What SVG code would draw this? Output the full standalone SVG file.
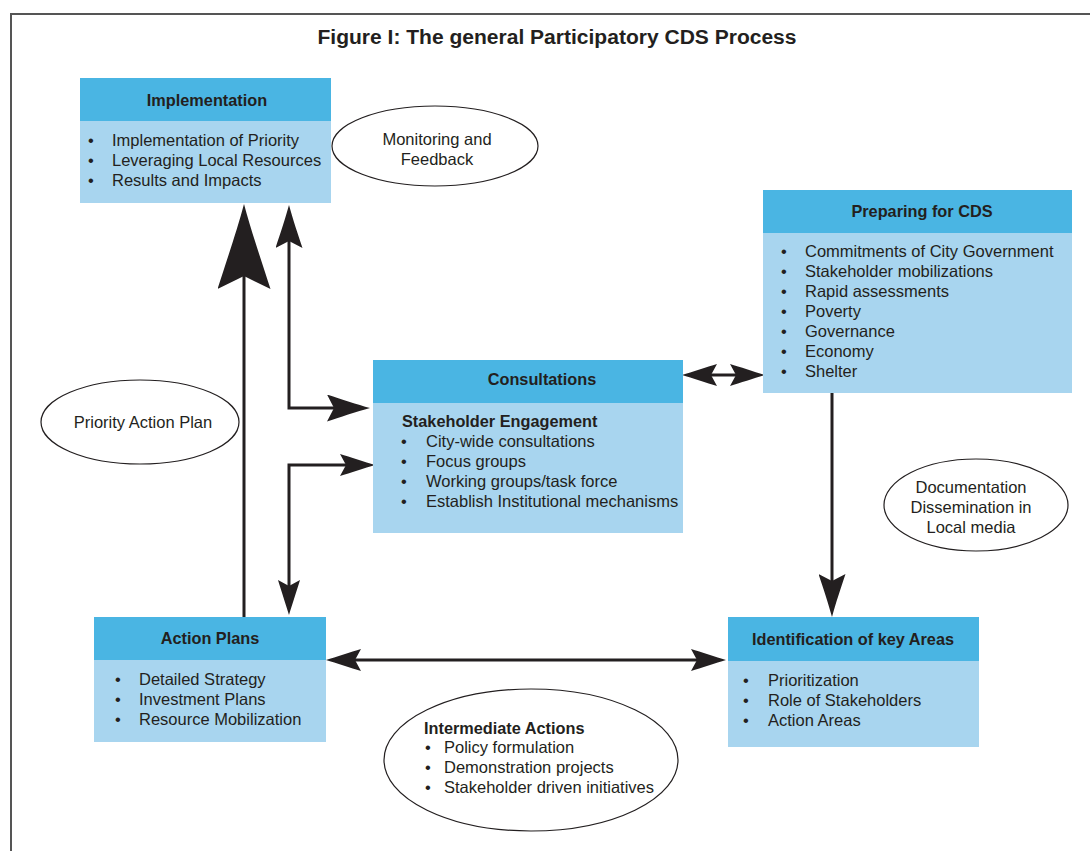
<svg xmlns="http://www.w3.org/2000/svg" width="1090" height="851" viewBox="0 0 1090 851">
<style>
.hdr{fill:#4AB5E3}
.bdy{fill:#A8D5EF}
.t{font-family:"Liberation Sans",Arial,sans-serif;font-size:16.5px;fill:#231F20}
.b{font-family:"Liberation Sans",Arial,sans-serif;font-size:16.3px;font-weight:bold;fill:#231F20}
.c{text-anchor:middle}
.ell{fill:#fff;stroke:#231F20;stroke-width:1.2}
.ln{fill:none;stroke:#231F20;stroke-width:3}
.title{font-family:"Liberation Sans",Arial,sans-serif;font-size:20px;font-weight:bold;fill:#231F20;text-anchor:middle}
</style>
<defs>
<marker id="big" viewBox="0 0 85 53" refX="13" refY="26.5" markerWidth="85" markerHeight="53" markerUnits="userSpaceOnUse" orient="auto-start-reverse">
<path d="M85,26.5 C60,20 25,8 0,0 L13,26.5 L0,53 C25,45 60,33 85,26.5 Z" fill="#231F20"/>
</marker>
<marker id="med" viewBox="0 0 43 27" refX="7" refY="13.5" markerWidth="43" markerHeight="27" markerUnits="userSpaceOnUse" orient="auto-start-reverse">
<path d="M43,13.5 C30,10 12,4 0,0 L7,13.5 L0,27 C12,23 30,17 43,13.5 Z" fill="#231F20"/>
</marker>
<marker id="sm" viewBox="0 0 35 22" refX="6" refY="11" markerWidth="35" markerHeight="22" markerUnits="userSpaceOnUse" orient="auto-start-reverse">
<path d="M35,11 C25,8 10,3 0,0 L6,11 L0,22 C10,19 25,14 35,11 Z" fill="#231F20"/>
</marker>
</defs>
<rect width="1090" height="851" fill="#fff"/>
<path d="M11,851 L11,14 L1090,14" fill="none" stroke="#555" stroke-width="2"/>
<text class="title" x="557" y="44" textLength="479" lengthAdjust="spacingAndGlyphs">Figure I: The general Participatory CDS Process</text>

<g id="connectors">
<path class="ln" d="M244,617 L244,276" stroke-width="7" marker-end="url(#big)"/>
<path class="ln" d="M289,241 L289,408 L334,408" marker-start="url(#med)" marker-end="url(#med)"/>
<path class="ln" d="M346,465 L289,465 L289,586" marker-start="url(#sm)" marker-end="url(#sm)"/>
<path class="ln" d="M711,375 L736,375" marker-start="url(#sm)" marker-end="url(#sm)"/>
<path class="ln" d="M832,393 L832,581" stroke-width="3.5" marker-end="url(#med)"/>
<path class="ln" d="M355,660 L697,660" marker-start="url(#sm)" marker-end="url(#sm)"/>
</g>

<g id="implementation">
<rect class="hdr" x="80" y="78" width="251" height="43"/>
<rect class="bdy" x="80" y="121" width="251" height="82"/>
<text class="b c" x="207" y="106">Implementation</text>
<text class="t" x="88" y="146">•</text><text class="t" x="112" y="146">Implementation of Priority</text>
<text class="t" x="88" y="166">•</text><text class="t" x="112" y="166">Leveraging Local Resources</text>
<text class="t" x="88" y="186">•</text><text class="t" x="112" y="186">Results and Impacts</text>
</g>

<g id="monitoring">
<ellipse class="ell" cx="435" cy="146" rx="103" ry="40"/>
<text class="t c" x="437" y="145">Monitoring and</text>
<text class="t c" x="437" y="165">Feedback</text>
</g>

<g id="preparing">
<rect class="hdr" x="763" y="190" width="309" height="43"/>
<rect class="bdy" x="763" y="233" width="309" height="160"/>
<text class="b c" x="922" y="217">Preparing for CDS</text>
<text class="t" x="781" y="257">•</text><text class="t" x="805" y="257">Commitments of City Government</text>
<text class="t" x="781" y="277">•</text><text class="t" x="805" y="277">Stakeholder mobilizations</text>
<text class="t" x="781" y="297">•</text><text class="t" x="805" y="297">Rapid assessments</text>
<text class="t" x="781" y="317">•</text><text class="t" x="805" y="317">Poverty</text>
<text class="t" x="781" y="337">•</text><text class="t" x="805" y="337">Governance</text>
<text class="t" x="781" y="357">•</text><text class="t" x="805" y="357">Economy</text>
<text class="t" x="781" y="377">•</text><text class="t" x="805" y="377">Shelter</text>
</g>

<g id="consultations">
<rect class="hdr" x="373" y="360" width="310" height="43"/>
<rect class="bdy" x="373" y="403" width="310" height="130"/>
<text class="b c" x="542" y="385">Consultations</text>
<text class="b" x="402" y="427">Stakeholder Engagement</text>
<text class="t" x="401" y="447">•</text><text class="t" x="426" y="447">City-wide consultations</text>
<text class="t" x="401" y="467">•</text><text class="t" x="426" y="467">Focus groups</text>
<text class="t" x="401" y="487">•</text><text class="t" x="426" y="487">Working groups/task force</text>
<text class="t" x="401" y="507">•</text><text class="t" x="426" y="507">Establish Institutional mechanisms</text>
</g>

<g id="priority-action-plan">
<ellipse class="ell" cx="140" cy="422" rx="99" ry="42"/>
<text class="t c" x="143" y="428">Priority Action Plan</text>
</g>

<g id="documentation">
<ellipse class="ell" cx="976" cy="505" rx="92" ry="46"/>
<text class="t c" x="971" y="493">Documentation</text>
<text class="t c" x="971" y="513">Dissemination in</text>
<text class="t c" x="971" y="533">Local media</text>
</g>

<g id="action-plans">
<rect class="hdr" x="94" y="617" width="232" height="43"/>
<rect class="bdy" x="94" y="660" width="232" height="82"/>
<text class="b c" x="210" y="644">Action Plans</text>
<text class="t" x="115" y="685">•</text><text class="t" x="139" y="685">Detailed Strategy</text>
<text class="t" x="115" y="705">•</text><text class="t" x="139" y="705">Investment Plans</text>
<text class="t" x="115" y="725">•</text><text class="t" x="139" y="725">Resource Mobilization</text>
</g>

<g id="identification">
<rect class="hdr" x="728" y="617" width="251" height="44"/>
<rect class="bdy" x="728" y="661" width="251" height="86"/>
<text class="b c" x="853" y="645">Identification of key Areas</text>
<text class="t" x="743" y="686">•</text><text class="t" x="768" y="686">Prioritization</text>
<text class="t" x="743" y="706">•</text><text class="t" x="768" y="706">Role of Stakeholders</text>
<text class="t" x="743" y="726">•</text><text class="t" x="768" y="726">Action Areas</text>
</g>

<g id="intermediate-actions">
<ellipse class="ell" cx="531" cy="760" rx="147" ry="71"/>
<text class="b" x="424" y="734">Intermediate Actions</text>
<text class="t" x="425" y="753">•</text><text class="t" x="444" y="753">Policy formulation</text>
<text class="t" x="425" y="773">•</text><text class="t" x="444" y="773">Demonstration projects</text>
<text class="t" x="425" y="793">•</text><text class="t" x="444" y="793">Stakeholder driven initiatives</text>
</g>
</svg>
